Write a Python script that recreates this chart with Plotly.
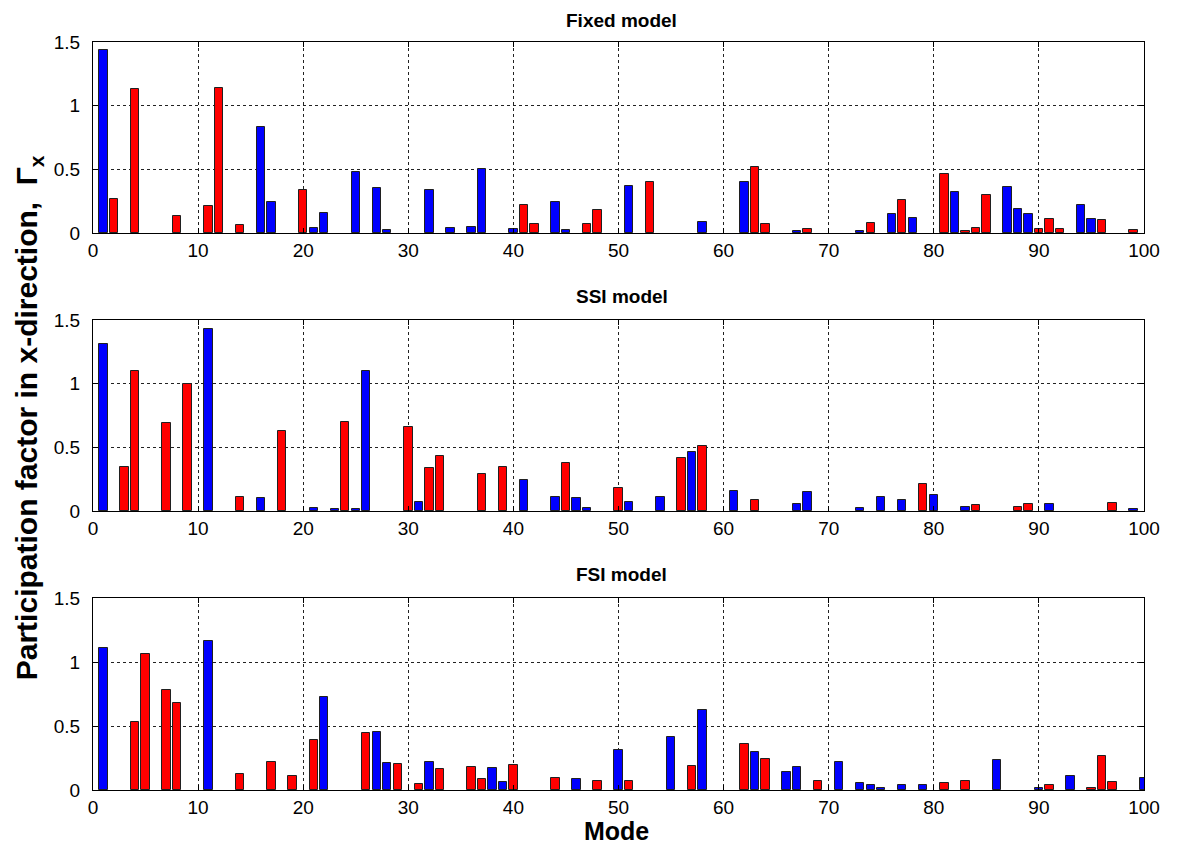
import plotly.graph_objects as go
from plotly.subplots import make_subplots

# ---------------- data ----------------
fixed_modes = [1, 2, 4, 8, 11, 12, 14, 16, 17, 20, 21, 22, 25, 27, 28, 32, 34, 36, 37, 40,
               41, 42, 44, 45, 47, 48, 51, 53, 58, 62, 63, 64, 67, 68, 73, 74, 76, 77, 78,
               81, 82, 83, 84, 85, 87, 88, 89, 90, 91, 92, 94, 95, 96, 99]
fixed_values = [1.44, 0.27, 1.13, 0.13, 0.21, 1.14, 0.06, 0.83, 0.24, 0.34, 0.04, 0.16, 0.48,
                0.35, 0.02, 0.34, 0.04, 0.05, 0.50, 0.03, 0.22, 0.07, 0.24, 0.02, 0.07, 0.18,
                0.37, 0.40, 0.09, 0.40, 0.52, 0.07, 0.013, 0.03, 0.016, 0.08, 0.15, 0.26, 0.12,
                0.46, 0.32, 0.016, 0.04, 0.30, 0.36, 0.19, 0.15, 0.03, 0.11, 0.03, 0.22, 0.11,
                0.10, 0.024]
fixed_colors = ['b', 'r', 'r', 'r', 'r', 'r', 'r', 'b', 'b', 'r', 'b', 'b', 'b', 'b', 'b', 'b',
                'b', 'b', 'b', 'b', 'r', 'r', 'b', 'b', 'r', 'r', 'b', 'r', 'b', 'b', 'r', 'r',
                'b', 'r', 'b', 'r', 'b', 'r', 'b', 'r', 'b', 'r', 'r', 'r', 'b', 'b', 'b', 'r',
                'r', 'r', 'b', 'b', 'r', 'r']

ssi_modes = [1, 3, 4, 7, 9, 11, 14, 16, 18, 21, 23, 24, 25, 26, 30, 31, 32, 33, 37, 39, 41,
             44, 45, 46, 47, 50, 51, 54, 56, 57, 58, 61, 63, 67, 68, 73, 75, 77, 79, 80, 83,
             84, 88, 89, 91, 97, 99]
ssi_values = [1.31, 0.345, 1.10, 0.69, 1.00, 1.43, 0.107, 0.10, 0.63, 0.02, 0.016, 0.70, 0.015,
              1.10, 0.66, 0.068, 0.34, 0.43, 0.29, 0.345, 0.24, 0.11, 0.376, 0.10, 0.02, 0.178,
              0.068, 0.107, 0.418, 0.462, 0.51, 0.154, 0.084, 0.052, 0.146, 0.02, 0.107, 0.084,
              0.209, 0.125, 0.03, 0.047, 0.03, 0.052, 0.052, 0.06, 0.015]
ssi_colors = ['b', 'r', 'r', 'r', 'r', 'b', 'r', 'b', 'r', 'b', 'b', 'r', 'b', 'b', 'r', 'b',
              'r', 'r', 'r', 'r', 'b', 'b', 'r', 'b', 'b', 'r', 'b', 'b', 'r', 'b', 'r', 'b',
              'r', 'b', 'b', 'b', 'b', 'b', 'r', 'b', 'b', 'r', 'r', 'r', 'b', 'r', 'b']

fsi_modes = [1, 4, 5, 7, 8, 11, 14, 17, 19, 21, 22, 26, 27, 28, 29, 31, 32, 33, 36, 37, 38,
             39, 40, 44, 46, 48, 50, 51, 55, 57, 58, 62, 63, 64, 66, 67, 69, 71, 73, 74, 75,
             77, 79, 81, 83, 86, 90, 91, 93, 95, 96, 97, 100]
fsi_values = [1.11, 0.53, 1.065, 0.78, 0.683, 1.167, 0.128, 0.217, 0.107, 0.39, 0.723, 0.445,
              0.453, 0.21, 0.20, 0.05, 0.217, 0.162, 0.178, 0.089, 0.17, 0.065, 0.194, 0.097,
              0.089, 0.073, 0.31, 0.073, 0.416, 0.186, 0.628, 0.359, 0.30, 0.24, 0.139, 0.178,
              0.073, 0.217, 0.052, 0.042, 0.018, 0.037, 0.037, 0.052, 0.068, 0.233, 0.013,
              0.037, 0.107, 0.013, 0.267, 0.06, 0.092]
fsi_colors = ['b', 'r', 'r', 'r', 'r', 'b', 'r', 'r', 'r', 'r', 'b', 'r', 'b', 'b', 'r', 'r',
              'b', 'r', 'r', 'r', 'b', 'b', 'r', 'r', 'b', 'r', 'b', 'r', 'b', 'r', 'b', 'r',
              'b', 'r', 'b', 'b', 'r', 'b', 'b', 'b', 'b', 'b', 'b', 'r', 'r', 'b', 'b', 'r',
              'b', 'r', 'r', 'r', 'b']

panel_titles = ["Fixed model", "SSI model", "FSI model"]
x_ticks = [0, 10, 20, 30, 40, 50, 60, 70, 80, 90, 100]
y_ticks = [0, 0.5, 1, 1.5]
y_tick_labels = ["0", "0.5", "1", "1.5"]

# ---------------- figure ----------------
COLOR_MAP = {'b': '#0000FF', 'r': '#FF0000'}
FONT = "Liberation Sans, Arial, sans-serif"

OFF = 8  # default page body margin
W, H = 1180 - 2 * OFF, 855 - 2 * OFF
# target positions in page pixels
plot_left, plot_right = 93, 1148
panels_px = [(42, 233), (320, 511), (598, 790)]
ml = plot_left - OFF
mr = W - (plot_right - OFF)
mt = panels_px[0][0] - OFF
mb = H - (panels_px[-1][1] - OFF)
ph = H - mt - mb
pw = W - ml - mr


def ypaper(ypage):
    return (H - mb - (ypage - OFF)) / ph


def xpaper(xpage):
    return ((xpage - OFF) - ml) / pw


fig = make_subplots(rows=3, cols=1)

datasets = [(fixed_modes, fixed_values, fixed_colors),
            (ssi_modes, ssi_values, ssi_colors),
            (fsi_modes, fsi_values, fsi_colors)]

for i, (m, v, c) in enumerate(datasets):
    fig.add_trace(go.Bar(x=m, y=v, width=0.8,
                         marker=dict(color=[COLOR_MAP[k] for k in c],
                                     line=dict(color='#202020', width=1)),
                         showlegend=False, hoverinfo='x+y'),
                  row=i + 1, col=1)

axis_common = dict(showline=True, linecolor='black', linewidth=1, mirror='ticks',
                   ticks='inside', ticklen=5, tickcolor='black',
                   showgrid=True, gridcolor='#222222', gridwidth=1, griddash='dot',
                   zeroline=False,
                   tickfont=dict(family=FONT, size=19, color='black'))

for i, (top, bottom) in enumerate(panels_px):
    n = '' if i == 0 else str(i + 1)
    fig.layout['xaxis' + n].update(range=[0, 100], tickvals=x_ticks,
                                   ticktext=[str(t) for t in x_ticks],
                                   domain=[0, 1], **axis_common)
    fig.layout['yaxis' + n].update(range=[0, 1.5], tickvals=y_ticks,
                                   ticktext=y_tick_labels,
                                   domain=[ypaper(bottom), ypaper(top)],
                                   ticklabelstandoff=8,
                                   **axis_common)

annotations = []
title_y_px = [20, 296, 574]
for t, ypx in zip(panel_titles, title_y_px):
    annotations.append(dict(text="<b>%s</b>" % t, x=xpaper(624), xref='paper',
                            y=ypaper(ypx), yref='paper', showarrow=False,
                            font=dict(family=FONT, size=19, color='black'),
                            xanchor='center', yanchor='middle'))

annotations.append(dict(text="<b>Mode</b>", x=xpaper(618), xref='paper',
                        y=ypaper(831), yref='paper', showarrow=False,
                        font=dict(family=FONT, size=25, color='black'),
                        xanchor='center', yanchor='middle'))

annotations.append(dict(text="<b>Participation factor in x-direction,  Γ<sub>x</sub></b>",
                        x=xpaper(28), xref='paper',
                        y=ypaper(418), yref='paper', showarrow=False,
                        textangle=-90,
                        font=dict(family=FONT, size=30, color='black'),
                        xanchor='center', yanchor='middle'))

fig.update_layout(width=W, height=H, margin=dict(l=ml, r=mr, t=mt, b=mb),
                  paper_bgcolor='white', plot_bgcolor='white',
                  bargap=0, annotations=annotations)

fig.write_html("out.html")
